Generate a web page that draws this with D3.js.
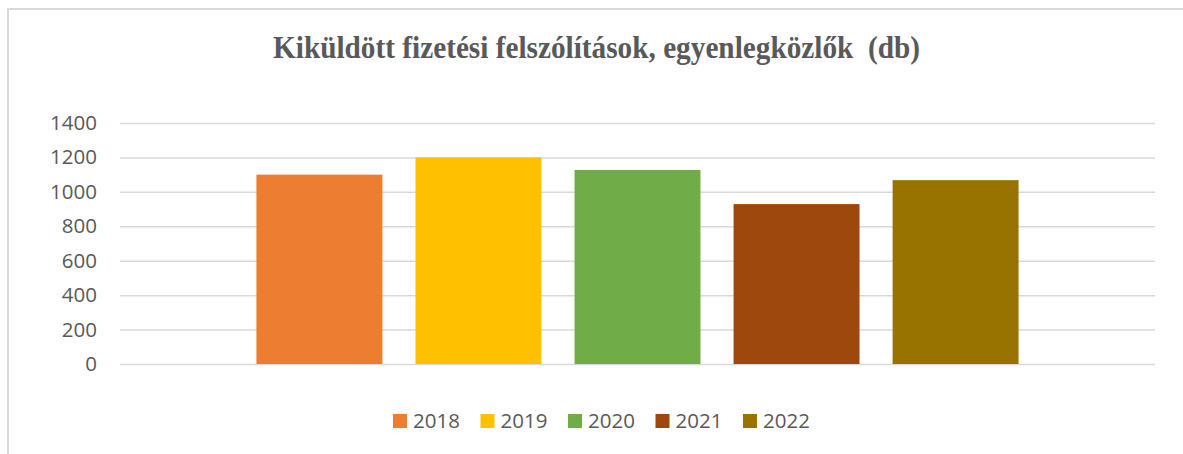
<!DOCTYPE html>
<html>
<head>
<meta charset="utf-8">
<script src="https://cdn.jsdelivr.net/npm/d3@7"></script>
<style>
  body { margin: 0; background: #fff; }
  text { font-family: "Open Sans", "Liberation Sans", sans-serif; fill: #595959; }
</style>
</head>
<body>
<div id="chart"></div>
<script>
// adatok
let title = "Kiküldött fizetési felszólítások, egyenlegközlők  (db)";
let years = ["2018", "2019", "2020", "2021", "2022"];
let values = [1100, 1200, 1127, 929, 1068];
let colors = ["#ed7d31", "#ffc000", "#70ad47", "#9e480e", "#997300"];
let yTicks = [0, 200, 400, 600, 800, 1000, 1200, 1400];

let width = 1183, height = 454;
let plot = {left: 120, right: 1155, top: 123, bottom: 364};

let svg = d3.select("#chart")
  .append("svg")
    .attr("width", width)
    .attr("height", height);

// keret
svg.append("path")
  .attr("d", `M8,${height} V9 H${width}`)
  .attr("fill", "none")
  .attr("stroke", "#d9d9d9")
  .attr("stroke-width", 2);

let y = d3.scaleLinear()
  .domain([0, 1400])
  .range([plot.bottom, plot.top]);

// egy kategória, öt sorozat
let x0 = d3.scaleBand()
  .domain([""])
  .range([plot.left, plot.right])
  .paddingInner(0)
  .paddingOuter(0.179);

let x1 = d3.scaleBand()
  .domain(years)
  .range([x0(""), x0("") + x0.bandwidth()])
  .paddingInner(0.208)
  .paddingOuter(0);

// rácsvonalak + tengely
let axeY = d3.axisLeft(y)
  .tickValues(yTicks)
  .tickFormat(d3.format("d"))
  .tickSize(-(plot.right - plot.left))
  .tickPadding(23);

let gy = svg.append("g")
  .attr("transform", `translate(${plot.left},0)`)
  .call(axeY);
gy.select(".domain").remove();
gy.selectAll(".tick line")
  .attr("stroke", "#d9d9d9")
  .attr("stroke-width", 1.5);
gy.selectAll(".tick text")
  .style("font-size", "20.5px")
  .attr("fill", "#595959")
  .attr("font-family", null);

svg.selectAll("rect.bar")
  .data(years)
  .enter()
  .append("rect")
    .attr("class", "bar")
    .attr("x", d => x1(d))
    .attr("width", x1.bandwidth())
    .attr("y", (d, i) => y(values[i]))
    .attr("height", (d, i) => y(0) - y(values[i]))
    .attr("fill", (d, i) => colors[i]);

// cím
svg.append("text")
  .attr("x", 273)
  .attr("y", 58)
  .attr("textLength", 647)
  .attr("lengthAdjust", "spacingAndGlyphs")
  .style("white-space", "pre")
  .style("font-family", "'Liberation Serif', 'Times New Roman', serif")
  .style("font-weight", "bold")
  .style("font-size", "31px")
  .text(title);

// jelmagyarázat
let legend = svg.append("g")
  .attr("transform", "translate(393,414)");

let item = legend.selectAll("g")
  .data(years)
  .enter()
  .append("g")
    .attr("transform", (d, i) => `translate(${i * 87.5},0)`);

item.append("rect")
  .attr("width", 14)
  .attr("height", 14)
  .attr("fill", (d, i) => colors[i]);

item.append("text")
  .attr("x", 20)
  .attr("y", 7)
  .attr("dy", "0.35em")
  .style("font-size", "20.5px")
  .text(d => d);
</script>
</body>
</html>
